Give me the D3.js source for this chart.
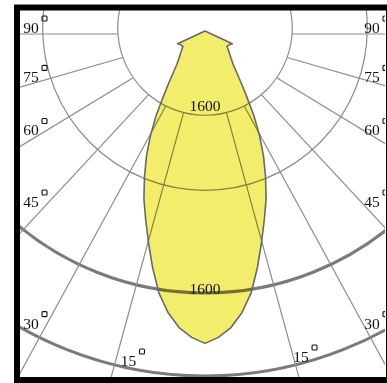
<!DOCTYPE html>
<html><head><meta charset="utf-8">
<script src="https://cdn.jsdelivr.net/npm/d3@7"></script>
<style>html,body{margin:0;padding:0;background:#fff;} svg{display:block}</style>
</head><body>
<svg id="c" width="387" height="383"></svg>
<script>
// ---- data ----
const angleTicks = [15, 30, 45, 60, 75, 90];
const gridAngles = [-105, -90, -75, -60, -45, -30, -15, 0, 15, 30, 45, 60, 75, 90, 105];
const thinRingValues = [535, 995];
const thinRingLabels = ["1600", ""];
const heavyRingValues = [1600, 2055];
const heavyRingLabels = ["1600", ""];
const curveAngles = [0, 2.5, 5, 7.5, 10, 12.5, 15, 17.5, 20, 22.5, 25, 27.5, 30, 32.5, 35, 40, 45, 50, 55, 60, 65, 70, 80, 90, 180];
const curveValues = [1915, 1880, 1825, 1740, 1630, 1485, 1340, 1210, 1095, 970, 850, 725, 600, 475, 385, 270, 220, 190, 165, 170, 185, 0, 0, 0, 0];

// ---- layout ----
const W = 387, H = 383;
const plot = {left: 20, top: 10, right: 385, bottom: 377};
const cx = 205;
const curveCy = 31, thinCy = 28, heavyCy = 1, spokeCy = 34;
const r = d3.scaleLinear().domain([0, 1600]).range([0, 261]);
const rHeavy = d3.scaleLinear().domain([0, 1600]).range([0, 292]);
// angular scale of the printed grid (slightly uneven in the source drawing)
const angScale = d3.scaleLinear()
  .domain([0, 15, 30, 45, 60, 75, 90, 105])
  .range([0, 15.3, 28.6, 42.9, 58.7, 74, 90, 106]);
const toRad = d => Math.PI - d * Math.PI / 180;   // 0 deg points down
const spokeRad = d => Math.sign(d) * (Math.PI - angScale(Math.abs(d)) * Math.PI / 180);
const FONT = "Liberation Serif, Times New Roman, serif";

const svg = d3.select("#c");
svg.append("rect").attr("width", W).attr("height", H).attr("fill", "#fff");
svg.append("clipPath").attr("id", "clip").append("rect")
  .attr("x", plot.left).attr("y", plot.top)
  .attr("width", plot.right - plot.left).attr("height", plot.bottom - plot.top);

const g = svg.append("g").attr("clip-path", "url(#clip)");
const gThin = g.append("g").attr("transform", `translate(${cx},${thinCy})`);
const gHeavy = g.append("g").attr("transform", `translate(${cx},${heavyCy})`);
const gSpoke = g.append("g").attr("transform", `translate(${cx},${spokeCy})`);
const gCurve = g.append("g").attr("transform", `translate(${cx},${curveCy})`);

// thin rings
gThin.selectAll("circle").data(thinRingValues).join("circle")
  .attr("r", d => r(d)).attr("fill", "none")
  .attr("stroke", "#8c8c8c").attr("stroke-width", 1.2);
// heavy rings
gHeavy.selectAll("circle").data(heavyRingValues).join("circle")
  .attr("r", d => rHeavy(d)).attr("fill", "none")
  .attr("stroke", "#7a7a7a").attr("stroke-width", 3);

// radial lines: start where each ray meets the inner thin ring
const rInner = r(thinRingValues[0]);
const off = spokeCy - thinCy;
function startDist(d) {
  const cosA = Math.cos(angScale(Math.abs(d)) * Math.PI / 180);
  return -off * cosA + Math.sqrt(off * off * cosA * cosA + rInner * rInner - off * off);
}
gSpoke.selectAll("line").data(gridAngles).join("line")
  .attr("x1", d => d3.pointRadial(spokeRad(d), startDist(d))[0])
  .attr("y1", d => d3.pointRadial(spokeRad(d), startDist(d))[1])
  .attr("x2", d => d3.pointRadial(spokeRad(d), 700)[0])
  .attr("y2", d => d3.pointRadial(spokeRad(d), 700)[1])
  .attr("stroke", "#8c8c8c").attr("stroke-width", 1.2);

// intensity curve (mirrored)
const pts = [];
for (let i = curveAngles.length - 1; i > 0; i--) pts.push([-curveAngles[i], curveValues[i]]);
for (let i = 0; i < curveAngles.length; i++) pts.push([curveAngles[i], curveValues[i]]);
const lineR = d3.lineRadial().angle(d => toRad(d[0])).radius(d => r(d[1])).curve(d3.curveLinearClosed);
gCurve.append("path").attr("d", lineR(pts))
  .attr("fill", "#f2ed6a").style("mix-blend-mode", "multiply");
gCurve.append("path").attr("d", lineR(pts))
  .attr("fill", "none").attr("stroke", "#696969").attr("stroke-width", 1.6)
  .attr("stroke-linejoin", "round");

// ring labels
gThin.selectAll("text").data(thinRingValues.filter((d, i) => thinRingLabels[i])).join("text")
  .attr("x", 0).attr("y", d => r(d) - 4).attr("text-anchor", "middle")
  .attr("font-family", FONT).attr("font-size", 15.5).attr("fill", "#111")
  .text(d => thinRingLabels[thinRingValues.indexOf(d)]);
gHeavy.selectAll("text").data(heavyRingValues.filter((d, i) => heavyRingLabels[i])).join("text")
  .attr("x", 0).attr("y", d => rHeavy(d) + 1).attr("text-anchor", "middle")
  .attr("font-family", FONT).attr("font-size", 15.5).attr("fill", "#111")
  .text(d => heavyRingLabels[heavyRingValues.indexOf(d)]);

// angle labels: along each tick direction, at the edge of the plot
const labelsG = g.append("g");
const labelDx = 174;
function labelPos(a, side) {
  if (a <= 15) {
    const y = plot.bottom - 13;
    const dy = y - spokeCy;
    const x = cx + side * dy * Math.tan(angScale(a) * Math.PI / 180);
    return {x: x + (side < 0 ? 6 : -2), y: y + (side < 0 ? 2 : -2), anchor: "start"};
  }
  const xx = side < 0 ? plot.left + 11 : plot.right - 13;
  const t = (a + 1) * Math.PI / 180;
  const y = a === 90 ? spokeCy - 1 : spokeCy + labelDx / Math.tan(t) + 5;
  return {x: xx, y: y, anchor: "middle"};
}
[-1, 1].forEach(side => {
  angleTicks.forEach(a => {
    const p = labelPos(a, side);
    const t = labelsG.append("text")
      .attr("x", p.x).attr("y", p.y).attr("text-anchor", p.anchor)
      .attr("font-family", FONT).attr("font-size", 15.5).attr("fill", "#111")
      .text(String(a));
    const bb = t.node().getBBox();
    labelsG.append("rect")
      .attr("x", bb.x + bb.width + 3).attr("y", p.y - 17)
      .attr("width", 5).attr("height", 5).attr("rx", 1)
      .attr("fill", "none").attr("stroke", "#111").attr("stroke-width", 1.1);
  });
});

// frame
svg.append("rect").attr("x", 17).attr("y", 7.5)
  .attr("width", 372).attr("height", 372.5)
  .attr("fill", "none").attr("stroke", "#000").attr("stroke-width", 6);
</script>
</body></html>
